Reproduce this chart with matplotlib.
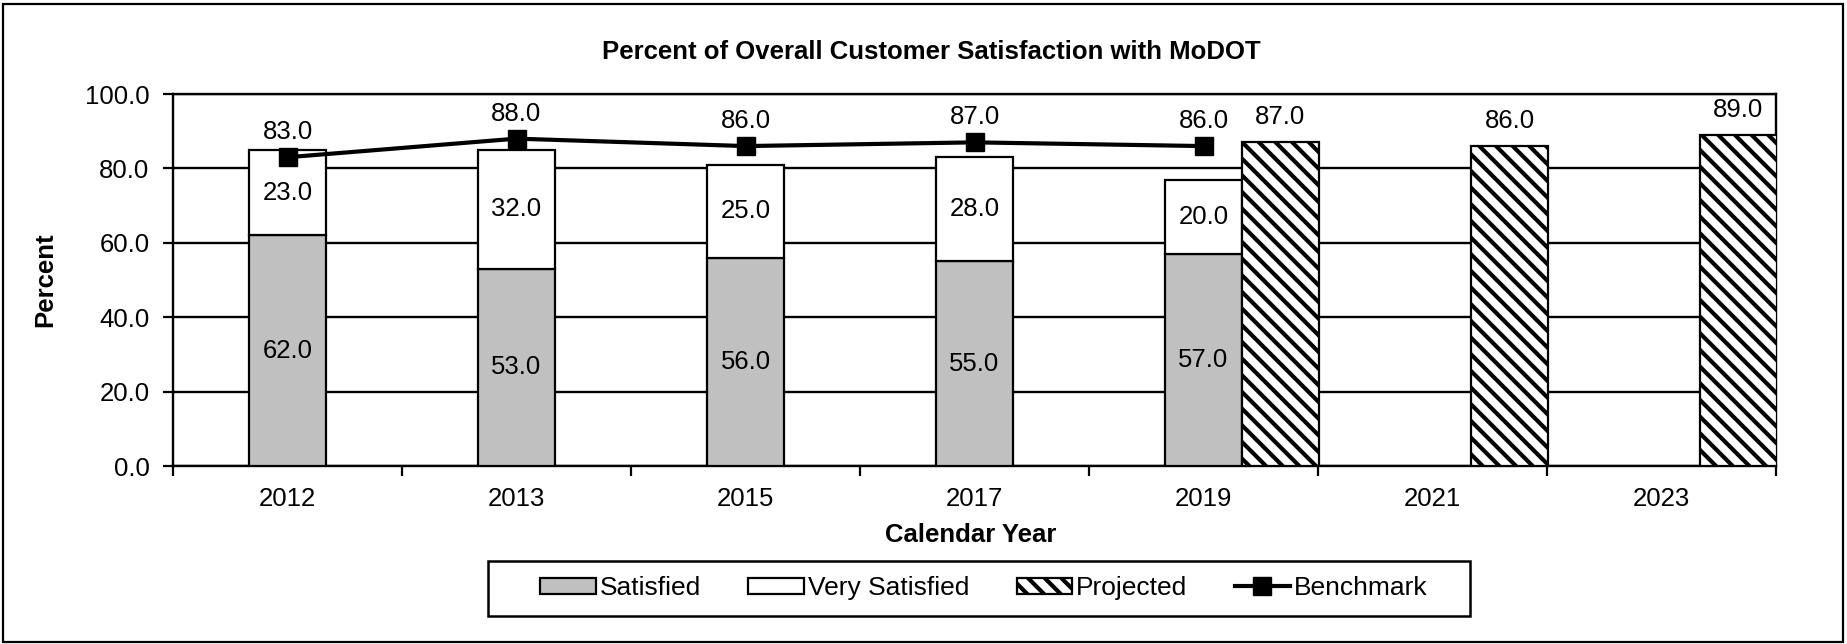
import matplotlib
matplotlib.use("Agg")
import matplotlib.pyplot as plt
from matplotlib.patches import Rectangle
import numpy as np

# ---- data ----
years = ["2012", "2013", "2015", "2017", "2019", "2021", "2023"]
satisfied = [62.0, 53.0, 56.0, 55.0, 57.0]
very_satisfied = [23.0, 32.0, 25.0, 28.0, 20.0]
benchmark = [83.0, 88.0, 86.0, 87.0, 86.0]
projected_years = ["2019", "2021", "2023"]
projected = [87.0, 86.0, 89.0]
yticks = [0, 20, 40, 60, 80, 100]

plt.rcParams['font.family'] = ['Liberation Sans', 'DejaVu Sans']
plt.rcParams['hatch.linewidth'] = 3.0
plt.rcParams['hatch.color'] = 'black'

FS = 18.5
fig = plt.figure(figsize=(18.47, 6.44), dpi=100)
ax = fig.add_axes([173/1847, 1-466/644, (1776-173)/1847, (466-94)/644])

x = np.arange(len(years))
n_hist = len(satisfied)
w = 0.336

ax.set_axisbelow(True)
ax.yaxis.grid(True, color='black', lw=1.7)

h1 = ax.bar(x[:n_hist], satisfied, w, color='#C0C0C0', edgecolor='black',
            lw=1.6, label='Satisfied', zorder=3)
h2 = ax.bar(x[:n_hist], very_satisfied, w, bottom=satisfied, color='white',
            edgecolor='black', lw=1.6, label='Very Satisfied', zorder=3)
px = [years.index(y) + w for y in projected_years]
h3 = ax.bar(px, projected, w, color='white', edgecolor='black', hatch='\\\\',
            lw=1.6, label='Projected', zorder=3)
h4, = ax.plot(x[:n_hist], benchmark, color='black', lw=3.0, marker='s', ms=13,
              label='Benchmark', zorder=5)

for xi, s, v in zip(x[:n_hist], satisfied, very_satisfied):
    ax.text(xi, s / 2, f"{s:.1f}", ha='center', va='center', fontsize=FS, zorder=6)
    ax.text(xi, s + v / 2, f"{v:.1f}", ha='center', va='center', fontsize=FS, zorder=6)
for xi, b in zip(x[:n_hist], benchmark):
    ax.annotate(f"{b:.1f}", (xi, b), xytext=(0, 18), textcoords='offset points',
                ha='center', va='center', fontsize=FS, zorder=6)
for xi, p in zip(px, projected):
    ax.annotate(f"{p:.1f}", (xi, p), xytext=(0, 18), textcoords='offset points',
                ha='center', va='center', fontsize=FS, zorder=6)

ax.set_xlim(-0.5, len(years) - 0.5)
ax.set_ylim(0, 100)
ax.set_yticks(yticks)
ax.set_yticklabels([f"{v:.1f}" for v in yticks], fontsize=FS)
ax.set_xticks(np.arange(-0.5, len(years), 1))
ax.set_xticklabels([])
ax.set_xticks(x, minor=True)
ax.set_xticklabels(years, minor=True, fontsize=FS)
ax.tick_params(axis='x', which='major', length=7, width=1.6, direction='out')
ax.tick_params(axis='x', which='minor', length=0, pad=15)
ax.tick_params(axis='y', length=7, width=1.6, direction='out', pad=10)
for sp in ax.spines.values():
    sp.set_color('black')
    sp.set_linewidth(1.7)

fig.text(931/1847, 1-52/644, "Percent of Overall Customer Satisfaction with MoDOT",
         ha='center', va='center', fontsize=18.5, fontweight='bold')
fig.text(45/1847, 1-280/644, "Percent", rotation=90, ha='center', va='center',
         fontsize=18.5, fontweight='bold')
fig.text(971/1847, 1-535/644, "Calendar Year", ha='center', va='center',
         fontsize=18.5, fontweight='bold')

leg = ax.legend(handles=[h1, h2, h3, h4],
                labels=['Satisfied', 'Very Satisfied', 'Projected', 'Benchmark'],
                loc='center', bbox_to_anchor=(984/1847, 1-588/644),
                bbox_transform=fig.transFigure, ncol=4, fontsize=19,
                frameon=False, handlelength=2.1, handleheight=0.55,
                handletextpad=0.15, columnspacing=1.8, borderpad=0.3)

# legend box
fig.add_artist(Rectangle((488/1847, 1-616/644), (1470-488)/1847, (616-561)/644,
                         transform=fig.transFigure, fill=False,
                         ec='black', lw=1.8))

# outer chart frame
fig.add_artist(Rectangle((3/1847, 2/644), 1840/1847, 638/644,
                         transform=fig.transFigure, fill=False,
                         ec='black', lw=1.6))

fig.savefig("out.png", dpi=100)
